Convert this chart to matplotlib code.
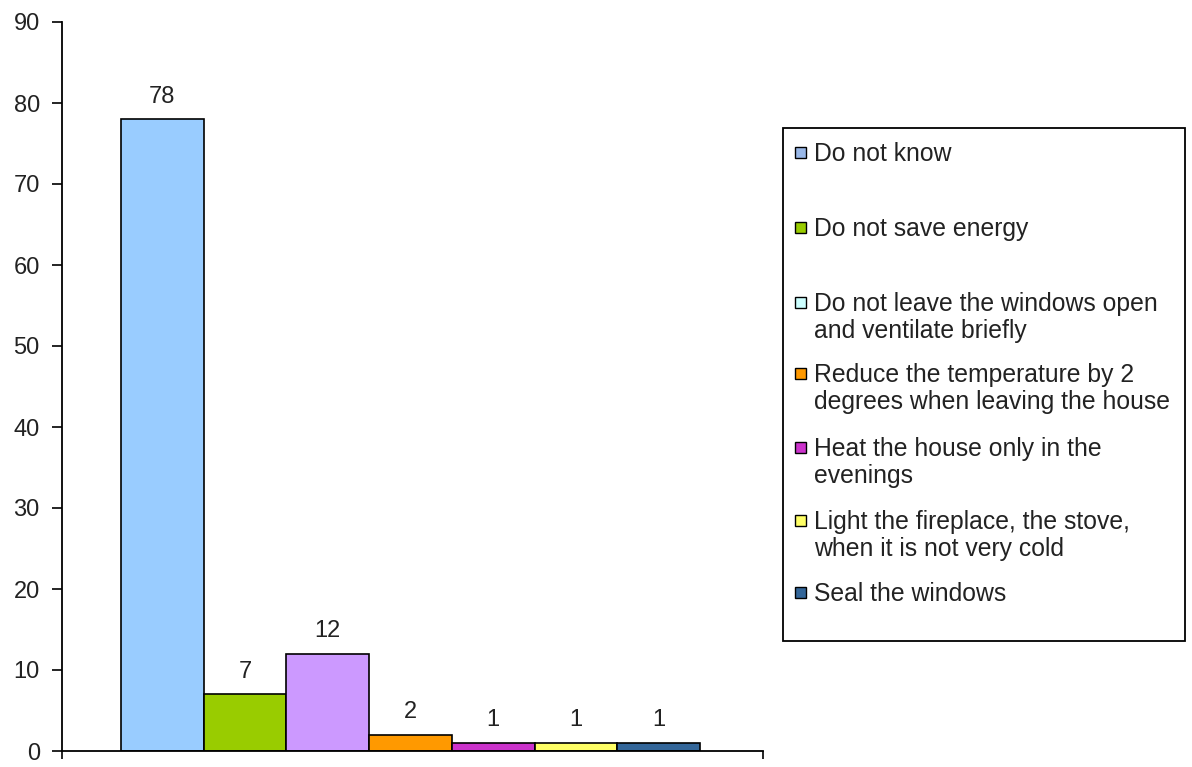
import matplotlib
matplotlib.use("Agg")
import matplotlib.pyplot as plt
from matplotlib.patches import Rectangle

plt.rcParams['font.family'] = ['Liberation Sans', 'DejaVu Sans']

labels = [
    "Do not know",
    "Do not save energy",
    "Do not leave the windows open\nand ventilate briefly",
    "Reduce the temperature by 2\ndegrees when leaving the house",
    "Heat the house only in the\nevenings",
    "Light the fireplace, the stove,\nwhen it is not very cold",
    "Seal the windows",
]
values = [78, 7, 12, 2, 1, 1, 1]
bar_colors = ["#99CCFF", "#99CC00", "#CC99FF", "#FF9900", "#CC33CC", "#FFFF66", "#336699"]
legend_colors = ["#99B8E8", "#99CC00", "#CCFFFF", "#FF9900", "#CC33CC", "#FFFF66", "#336699"]
yticks = [0, 10, 20, 30, 40, 50, 60, 70, 80, 90]

W, H = 1192, 767
TEXT = "#222222"
fig = plt.figure(figsize=(W / 100, H / 100), dpi=100)
fig.patch.set_facecolor("white")

ax = fig.add_axes([62 / W, (H - 751) / H, (763 - 62) / W, (751 - 22) / H])
xs = list(range(len(values)))
ax.bar(xs, values, width=1.0, color=bar_colors, edgecolor="black", linewidth=1.2)
for x, v in zip(xs, values):
    ax.annotate(str(v), (x, v), xytext=(0, 12), textcoords="offset points",
                ha="center", va="baseline", fontsize=17, color=TEXT)

ax.set_xlim(-1.21, 7.26)
ax.set_ylim(0, 90)
ax.set_yticks(yticks)
ax.tick_params(axis="y", labelsize=17, length=7, width=1.2, pad=9, labelcolor=TEXT)
ax.set_xticks([])
ax.set_xticks([-1.21, 7.26], minor=True)
ax.tick_params(axis="x", which="minor", length=6, width=1.2, labelbottom=False)
for s in ["top", "right"]:
    ax.spines[s].set_visible(False)
for s in ["left", "bottom"]:
    ax.spines[s].set_linewidth(1.3)

# legend box drawn in figure pixel coordinates
box = Rectangle((783 / W, (H - 641) / H), (1185 - 783) / W, (641 - 128) / H,
                transform=fig.transFigure, facecolor="white", edgecolor="black",
                linewidth=1.3)
fig.add_artist(box)
line_y = [152, 227, 302, 373, 447, 520, 592]
line_step = 27
fs_leg = 17.8
cap_half = 0.716 * fs_leg * 100 / 72 / 2
for lab, col, y in zip(labels, legend_colors, line_y):
    fig.add_artist(Rectangle((795 / W, (H - y - 5.5) / H), 11 / W, 11 / H,
                             transform=fig.transFigure, facecolor=col,
                             edgecolor="black", linewidth=1))
    for i, part in enumerate(lab.split("\n")):
        yy = y + i * line_step + cap_half
        fig.text(814 / W, (H - yy) / H, part, ha="left", va="baseline",
                 fontsize=fs_leg, color=TEXT, transform=fig.transFigure)

fig.savefig("out.png", dpi=100)
